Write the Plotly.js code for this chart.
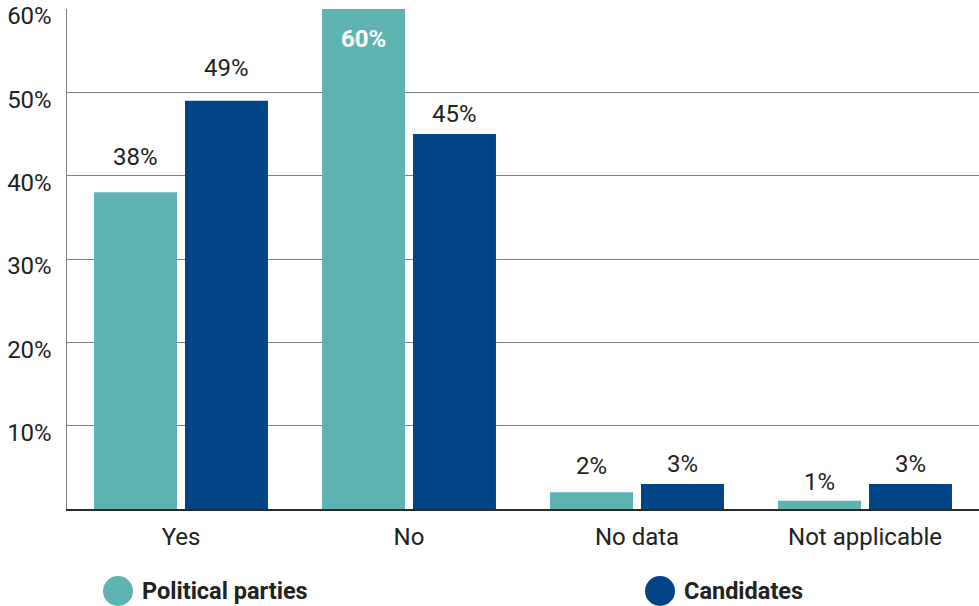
<!DOCTYPE html>
<html>
<head>
<meta charset="utf-8">
<script src="https://cdn.plot.ly/plotly-3.0.1.min.js"></script>
<style>
  html, body { margin: 0; padding: 0; background: #ffffff; }
  #chart { width: 979px; height: 606px; }
</style>
</head>
<body>
<div id="chart"></div>
<script>
// Survey answers, share of respondents (%)
const categories = ["Yes", "No", "No data", "Not applicable"];
const partiesValues = [38, 60, 2, 1];
const candidatesValues = [49, 45, 3, 3];
const seriesNames = ["Political parties", "Candidates"];
const yTickValues = [10, 20, 30, 40, 50, 60];
const yTickLabels = ["10%", "20%", "30%", "40%", "50%", "60%"];

// Styling
const TEAL = "#5eb3b2";
const NAVY = "#014587";
const TEXT = "#222222";
const FONT = "Roboto, 'Open Sans', sans-serif";

// Distance of each value label's centre above its bar top, in pixels
const partiesLift = [35, 0, 26, 19];
const candidatesLift = [33, 20, 20, 20];

const BARGAP = 0.202;
const GROUPGAP = 0.088;

const W = 979, H = 606;
const M = { l: 67, r: 0, t: 9, b: 97 };
const plotW = W - M.l - M.r;
const catW = plotW / categories.length;
const slot = catW * (1 - BARGAP) / 2;
const halfSlot = slot / 2;

const traces = [
  {
    type: "bar", name: seriesNames[0], x: categories, y: partiesValues,
    marker: { color: TEAL }, hoverinfo: "x+y", showlegend: false
  },
  {
    type: "bar", name: seriesNames[1], x: categories, y: candidatesValues,
    marker: { color: NAVY }, hoverinfo: "x+y", showlegend: false
  }
];

const annotations = [];
const yMax = 60;
function addLabels(values, lifts, side) {
  values.forEach((v, i) => {
    const inside = v >= yMax;
    annotations.push({
      x: categories[i], y: v, xref: "x", yref: "y",
      text: inside ? "<b>" + v + "%</b>" : v + "%",
      showarrow: false,
      xshift: side * halfSlot,
      yanchor: "middle",
      yshift: inside ? -30 : lifts[i],
      font: { family: FONT, size: 24, color: inside ? "#ffffff" : TEXT }
    });
  });
}
addLabels(partiesValues, partiesLift, -1);
addLabels(candidatesValues, candidatesLift, 1);

// Legend: round swatches with bold names below the plot
const legendColors = [TEAL, NAVY];
const legendX = [(118 - M.l) / plotW, (660 - M.l) / plotW];
const legendY = -0.164;
const shapes = [];
seriesNames.forEach((name, i) => {
  shapes.push({
    type: "circle", xref: "paper", yref: "paper",
    xsizemode: "pixel", ysizemode: "pixel",
    xanchor: legendX[i], yanchor: legendY,
    x0: -15, x1: 15, y0: -15, y1: 15,
    fillcolor: legendColors[i], line: { width: 0 }
  });
  annotations.push({
    xref: "paper", yref: "paper",
    x: legendX[i], y: legendY, xshift: 22,
    xanchor: "left", yanchor: "middle",
    text: "<b>" + name + "</b>", showarrow: false,
    font: { family: FONT, size: 23.5, color: TEXT }
  });
});

const layout = {
  width: W, height: H,
  margin: M,
  paper_bgcolor: "#ffffff",
  plot_bgcolor: "#ffffff",
  barmode: "group",
  bargap: BARGAP,
  bargroupgap: GROUPGAP,
  font: { family: FONT, size: 24, color: TEXT },
  xaxis: {
    type: "category",
    showline: true, linecolor: "#2a2a2a", linewidth: 1.5,
    ticks: "", showgrid: false,
    tickfont: { family: FONT, size: 24, color: TEXT },
    ticklabelstandoff: 6,
    fixedrange: true
  },
  yaxis: {
    range: [0, 60],
    tickvals: yTickValues, ticktext: yTickLabels,
    showgrid: true, gridcolor: "#808080", gridwidth: 1,
    showline: true, linecolor: "#808080", linewidth: 1.5,
    zeroline: false,
    ticks: "",
    ticklabelstandoff: 9,
    ticklabelshift: 7,
    tickfont: { family: FONT, size: 24, color: TEXT },
    fixedrange: true
  },
  shapes: shapes,
  annotations: annotations,
  showlegend: false
};

Plotly.newPlot("chart", traces, layout, { displayModeBar: false, staticPlot: true });
</script>
</body>
</html>
